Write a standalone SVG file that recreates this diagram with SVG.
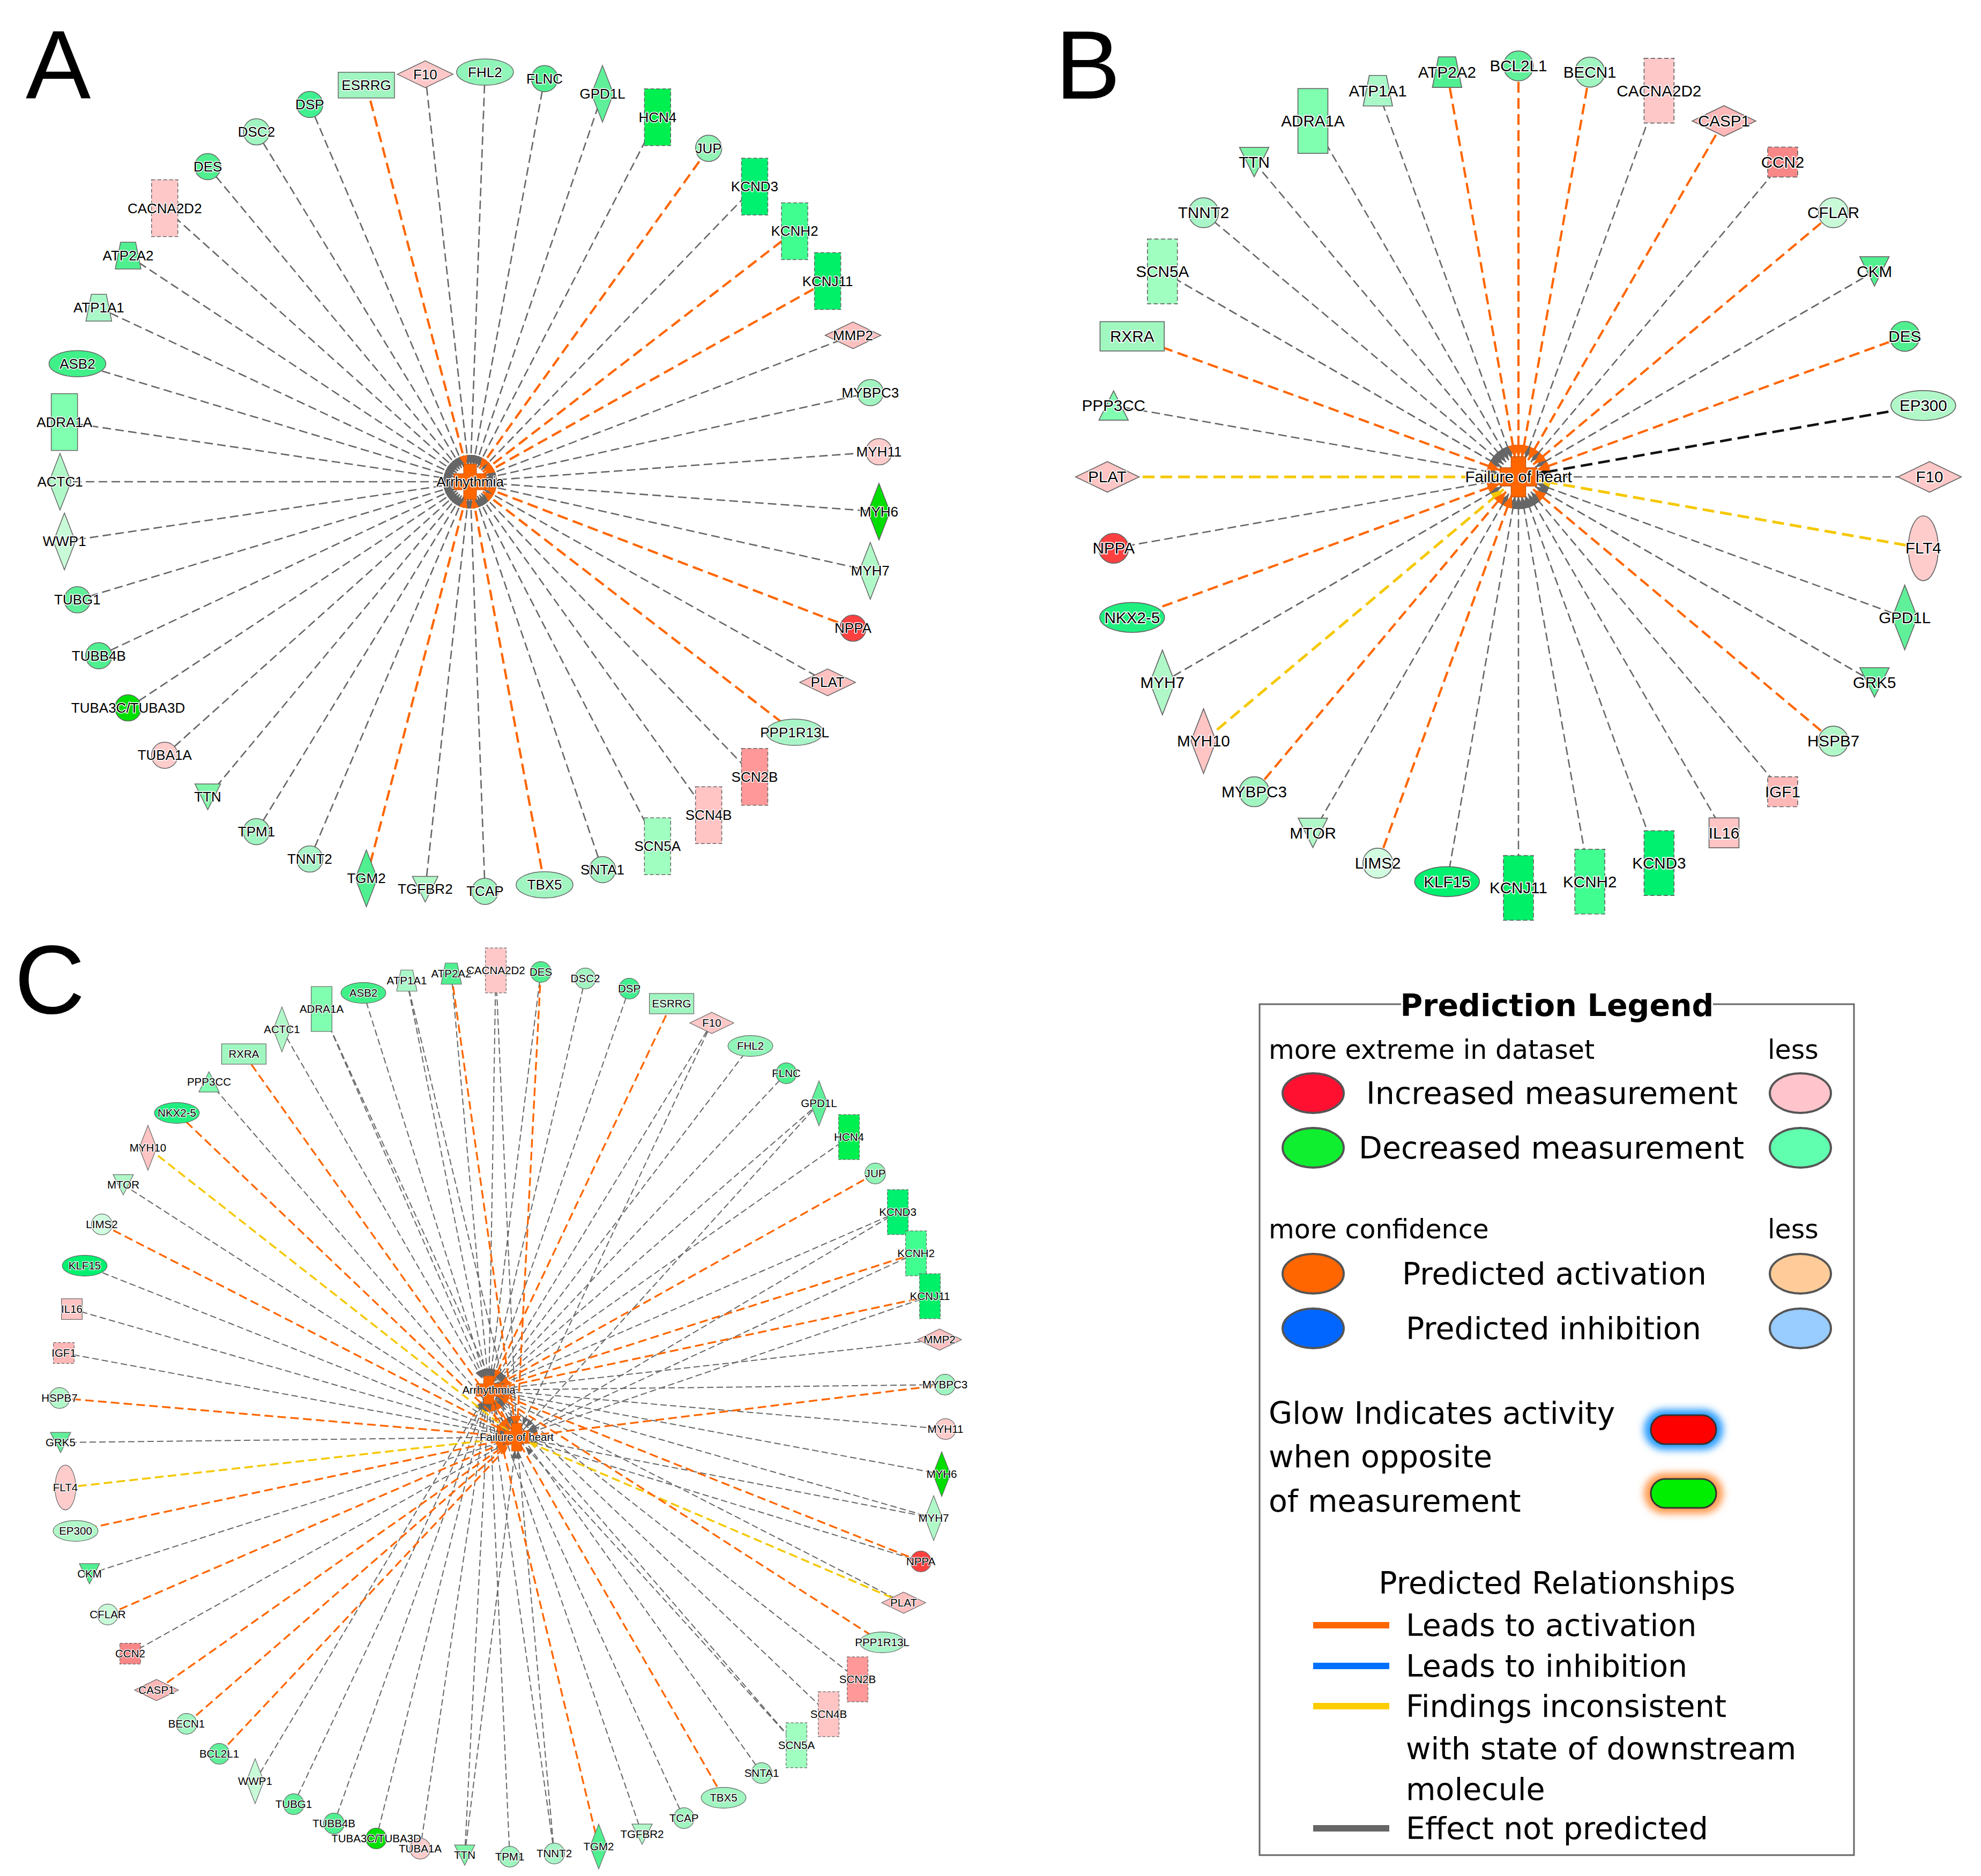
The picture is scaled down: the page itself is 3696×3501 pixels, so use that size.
<svg xmlns="http://www.w3.org/2000/svg" width="3696" height="3501" viewBox="0 0 3696 3501">
<defs>
<style>
.t{font-family:"Liberation Sans",Arial,sans-serif;font-size:26px;text-anchor:middle;fill:#000;stroke:#fff;stroke-width:3px;stroke-linejoin:round;paint-order:stroke fill}
.pl{font-family:"Liberation Sans",Arial,sans-serif;font-size:182px;fill:#000}
.eg{fill:none;stroke:#666;stroke-width:2.6;stroke-dasharray:16 8}
.eo{fill:none;stroke:#ff6600;stroke-width:4.2;stroke-dasharray:20 10}
.ey{fill:none;stroke:#f5c800;stroke-width:5;stroke-dasharray:22 11}
.ek{fill:none;stroke:#111;stroke-width:4.6;stroke-dasharray:22 11}
.cg{fill:none;stroke:#666;stroke-width:2;stroke-dasharray:12 6}
.co{fill:none;stroke:#ff6600;stroke-width:3.3;stroke-dasharray:16 8}
.cy{fill:none;stroke:#f5c800;stroke-width:3.5;stroke-dasharray:16 8}
.lg{font-family:"DejaVu Sans",Verdana,sans-serif;font-size:57px;fill:#000}
.ls{font-size:49px}
.le{stroke:#555;stroke-width:4}
</style>
<circle id="ci" r="24.5" stroke="#666" stroke-width="1.5"/>
<ellipse id="el" rx="53" ry="24.5" stroke="#666" stroke-width="1.5"/>
<ellipse id="ve" rx="24.5" ry="53" stroke="#666" stroke-width="1.5"/>
<rect id="rt" x="-24.5" y="-53" width="49" height="106" stroke="#666" stroke-width="1.5"/>
<rect id="rtd" x="-24.5" y="-53" width="49" height="106" stroke="#666" stroke-width="1.5" stroke-dasharray="7 4"/>
<rect id="rw" x="-52.5" y="-24" width="105" height="48" stroke="#666" stroke-width="1.5"/>
<rect id="sq" x="-24.5" y="-24.5" width="49" height="49" stroke="#666" stroke-width="1.5"/>
<rect id="sqd" x="-24.5" y="-24.5" width="49" height="49" stroke="#666" stroke-width="1.5" stroke-dasharray="7 4"/>
<path id="hd" d="M-52,0 L0,-25 L52,0 L0,25 Z" stroke="#666" stroke-width="1.5"/>
<path id="vd" d="M-20.5,0 L0,-53 L20.5,0 L0,53 Z" stroke="#666" stroke-width="1.5"/>
<path id="tp" d="M-14,-25 L14,-25 L24,25 L-24,25 Z" stroke="#666" stroke-width="1.5"/>
<path id="td" d="M-24,-24 L24,-24 L0,24 Z" stroke="#666" stroke-width="1.5"/>
<path id="tu" d="M0,-24 L24,24 L-24,24 Z" stroke="#666" stroke-width="1.5"/>
<path id="hubshape" d="M-12,-33 H12 V-15 H30 V15 H12 V33 H-12 V15 H-30 V-15 H-12 Z" fill="#ff6600" stroke="#b84a00" stroke-width="1"/>
<marker id="mg" viewBox="0 0 20 16" refX="20" refY="8" markerWidth="20" markerHeight="16" markerUnits="userSpaceOnUse" orient="auto"><path d="M0,0 L20,8 L0,16 Z" fill="#666"/></marker>
<marker id="mo" viewBox="0 0 20 16" refX="20" refY="8" markerWidth="20" markerHeight="16" markerUnits="userSpaceOnUse" orient="auto"><path d="M0,0 L20,8 L0,16 Z" fill="#ff6600"/></marker>
<marker id="mbg" viewBox="0 0 24 19" refX="24" refY="9.5" markerWidth="24" markerHeight="19" markerUnits="userSpaceOnUse" orient="auto"><path d="M0,0 L24,9.5 L0,19 Z" fill="#666"/></marker>
<marker id="mbo" viewBox="0 0 24 19" refX="24" refY="9.5" markerWidth="24" markerHeight="19" markerUnits="userSpaceOnUse" orient="auto"><path d="M0,0 L24,9.5 L0,19 Z" fill="#ff6600"/></marker>
<marker id="mby" viewBox="0 0 24 19" refX="24" refY="9.5" markerWidth="24" markerHeight="19" markerUnits="userSpaceOnUse" orient="auto"><path d="M0,0 L24,9.5 L0,19 Z" fill="#f5c800"/></marker>
<marker id="mbk" viewBox="0 0 24 19" refX="24" refY="9.5" markerWidth="24" markerHeight="19" markerUnits="userSpaceOnUse" orient="auto"><path d="M0,0 L24,9.5 L0,19 Z" fill="#111"/></marker>
<marker id="mcg" viewBox="0 0 40 12" refX="40" refY="6" markerWidth="40" markerHeight="12" markerUnits="userSpaceOnUse" orient="auto"><path d="M0,0 L16,6 L0,12 Z" fill="#666"/></marker>
<marker id="mco" viewBox="0 0 40 12" refX="40" refY="6" markerWidth="40" markerHeight="12" markerUnits="userSpaceOnUse" orient="auto"><path d="M0,0 L16,6 L0,12 Z" fill="#ff6600"/></marker>
<marker id="mcy" viewBox="0 0 40 12" refX="40" refY="6" markerWidth="40" markerHeight="12" markerUnits="userSpaceOnUse" orient="auto"><path d="M0,0 L16,6 L0,12 Z" fill="#f5c800"/></marker>
<filter id="blur" x="-50%" y="-50%" width="200%" height="200%"><feGaussianBlur stdDeviation="7"/></filter>
</defs>
<rect width="3696" height="3501" fill="#fff"/>

<text class="pl" x="48" y="184">A</text>
<text class="pl" x="1969" y="184">B</text>
<text class="pl" x="27" y="1891">C</text>

<!-- PANEL A -->
<g id="a-edges">
<line transform="translate(877 899) rotate(270)" y1="-765" y2="-30" class="eg" marker-end="url(#mg)"/>
<line transform="translate(877 899) rotate(278.37)" y1="-765" y2="-30" class="eg" marker-end="url(#mg)"/>
<line transform="translate(877 899) rotate(286.74)" y1="-765" y2="-30" class="eg" marker-end="url(#mg)"/>
<line transform="translate(877 899) rotate(295.12)" y1="-765" y2="-30" class="eg" marker-end="url(#mg)"/>
<line transform="translate(877 899) rotate(303.49)" y1="-765" y2="-30" class="eg" marker-end="url(#mg)"/>
<line transform="translate(877 899) rotate(311.86)" y1="-765" y2="-30" class="eg" marker-end="url(#mg)"/>
<line transform="translate(877 899) rotate(320.23)" y1="-765" y2="-30" class="eg" marker-end="url(#mg)"/>
<line transform="translate(877 899) rotate(328.60)" y1="-765" y2="-30" class="eg" marker-end="url(#mg)"/>
<line transform="translate(877 899) rotate(336.98)" y1="-765" y2="-30" class="eg" marker-end="url(#mg)"/>
<line transform="translate(877 899) rotate(353.72)" y1="-765" y2="-30" class="eg" marker-end="url(#mg)"/>
<line transform="translate(877 899) rotate(2.09)" y1="-765" y2="-30" class="eg" marker-end="url(#mg)"/>
<line transform="translate(877 899) rotate(10.47)" y1="-765" y2="-30" class="eg" marker-end="url(#mg)"/>
<line transform="translate(877 899) rotate(18.84)" y1="-765" y2="-30" class="eg" marker-end="url(#mg)"/>
<line transform="translate(877 899) rotate(27.21)" y1="-765" y2="-30" class="eg" marker-end="url(#mg)"/>
<line transform="translate(877 899) rotate(43.95)" y1="-765" y2="-30" class="eg" marker-end="url(#mg)"/>
<line transform="translate(877 899) rotate(69.07)" y1="-765" y2="-30" class="eg" marker-end="url(#mg)"/>
<line transform="translate(877 899) rotate(77.44)" y1="-765" y2="-30" class="eg" marker-end="url(#mg)"/>
<line transform="translate(877 899) rotate(85.81)" y1="-765" y2="-30" class="eg" marker-end="url(#mg)"/>
<line transform="translate(877 899) rotate(94.19)" y1="-765" y2="-30" class="eg" marker-end="url(#mg)"/>
<line transform="translate(877 899) rotate(102.56)" y1="-765" y2="-30" class="eg" marker-end="url(#mg)"/>
<line transform="translate(877 899) rotate(119.30)" y1="-765" y2="-30" class="eg" marker-end="url(#mg)"/>
<line transform="translate(877 899) rotate(136.05)" y1="-765" y2="-30" class="eg" marker-end="url(#mg)"/>
<line transform="translate(877 899) rotate(144.42)" y1="-765" y2="-30" class="eg" marker-end="url(#mg)"/>
<line transform="translate(877 899) rotate(152.79)" y1="-765" y2="-30" class="eg" marker-end="url(#mg)"/>
<line transform="translate(877 899) rotate(161.16)" y1="-765" y2="-30" class="eg" marker-end="url(#mg)"/>
<line transform="translate(877 899) rotate(177.91)" y1="-765" y2="-30" class="eg" marker-end="url(#mg)"/>
<line transform="translate(877 899) rotate(186.28)" y1="-765" y2="-30" class="eg" marker-end="url(#mg)"/>
<line transform="translate(877 899) rotate(203.02)" y1="-765" y2="-30" class="eg" marker-end="url(#mg)"/>
<line transform="translate(877 899) rotate(211.40)" y1="-765" y2="-30" class="eg" marker-end="url(#mg)"/>
<line transform="translate(877 899) rotate(219.77)" y1="-765" y2="-30" class="eg" marker-end="url(#mg)"/>
<line transform="translate(877 899) rotate(228.14)" y1="-765" y2="-30" class="eg" marker-end="url(#mg)"/>
<line transform="translate(877 899) rotate(236.51)" y1="-765" y2="-30" class="eg" marker-end="url(#mg)"/>
<line transform="translate(877 899) rotate(244.88)" y1="-765" y2="-30" class="eg" marker-end="url(#mg)"/>
<line transform="translate(877 899) rotate(253.26)" y1="-765" y2="-30" class="eg" marker-end="url(#mg)"/>
<line transform="translate(877 899) rotate(261.63)" y1="-765" y2="-30" class="eg" marker-end="url(#mg)"/>
<line transform="translate(877 899) rotate(345.35)" y1="-765" y2="-30" class="eo" marker-end="url(#mo)"/>
<line transform="translate(877 899) rotate(35.58)" y1="-765" y2="-30" class="eo" marker-end="url(#mo)"/>
<line transform="translate(877 899) rotate(52.33)" y1="-765" y2="-30" class="eo" marker-end="url(#mo)"/>
<line transform="translate(877 899) rotate(60.70)" y1="-765" y2="-30" class="eo" marker-end="url(#mo)"/>
<line transform="translate(877 899) rotate(110.93)" y1="-765" y2="-30" class="eo" marker-end="url(#mo)"/>
<line transform="translate(877 899) rotate(127.67)" y1="-765" y2="-30" class="eo" marker-end="url(#mo)"/>
<line transform="translate(877 899) rotate(169.53)" y1="-765" y2="-30" class="eo" marker-end="url(#mo)"/>
<line transform="translate(877 899) rotate(194.65)" y1="-765" y2="-30" class="eo" marker-end="url(#mo)"/>
</g>
<g id="a-nodes">
<g id="a-actc1" transform="translate(877 899) rotate(270) translate(0 -765) rotate(-270)"><use href="#vd" fill="#b0f8c8"/><text class="t" y="9">ACTC1</text></g>
<g id="a-adra1a" transform="translate(877 899) rotate(278.37) translate(0 -765) rotate(-278.37)"><use href="#rt" fill="#80ffb0"/><text class="t" y="9">ADRA1A</text></g>
<g id="a-asb2" transform="translate(877 899) rotate(286.74) translate(0 -765) rotate(-286.74)"><use href="#el" fill="#40f088"/><text class="t" y="9">ASB2</text></g>
<g id="a-atp1a1" transform="translate(877 899) rotate(295.12) translate(0 -765) rotate(-295.12)"><use href="#tp" fill="#a8f8c8"/><text class="t" y="9">ATP1A1</text></g>
<g id="a-atp2a2" transform="translate(877 899) rotate(303.49) translate(0 -765) rotate(-303.49)"><use href="#tp" fill="#50f090"/><text class="t" y="9">ATP2A2</text></g>
<g id="a-cacna2d2" transform="translate(877 899) rotate(311.86) translate(0 -765) rotate(-311.86)"><use href="#rtd" fill="#ffc8c8"/><text class="t" y="9">CACNA2D2</text></g>
<g id="a-des" transform="translate(877 899) rotate(320.23) translate(0 -765) rotate(-320.23)"><use href="#ci" fill="#50f090"/><text class="t" y="9">DES</text></g>
<g id="a-dsc2" transform="translate(877 899) rotate(328.60) translate(0 -765) rotate(-328.60)"><use href="#ci" fill="#a0f5c0"/><text class="t" y="9">DSC2</text></g>
<g id="a-dsp" transform="translate(877 899) rotate(336.98) translate(0 -765) rotate(-336.98)"><use href="#ci" fill="#40f090"/><text class="t" y="9">DSP</text></g>
<g id="a-esrrg" transform="translate(877 899) rotate(345.35) translate(0 -765) rotate(-345.35)"><use href="#rw" fill="#a0f5c0"/><text class="t" y="9">ESRRG</text></g>
<g id="a-f10" transform="translate(877 899) rotate(353.72) translate(0 -765) rotate(-353.72)"><use href="#hd" fill="#ffc8c8"/><text class="t" y="9">F10</text></g>
<g id="a-fhl2" transform="translate(877 899) rotate(2.09) translate(0 -765) rotate(-2.09)"><use href="#el" fill="#90f5b8"/><text class="t" y="9">FHL2</text></g>
<g id="a-flnc" transform="translate(877 899) rotate(10.47) translate(0 -765) rotate(-10.47)"><use href="#ci" fill="#50f090"/><text class="t" y="9">FLNC</text></g>
<g id="a-gpd1l" transform="translate(877 899) rotate(18.84) translate(0 -765) rotate(-18.84)"><use href="#vd" fill="#60f09a"/><text class="t" y="9">GPD1L</text></g>
<g id="a-hcn4" transform="translate(877 899) rotate(27.21) translate(0 -765) rotate(-27.21)"><use href="#rtd" fill="#00f050"/><text class="t" y="9">HCN4</text></g>
<g id="a-jup" transform="translate(877 899) rotate(35.58) translate(0 -765) rotate(-35.58)"><use href="#ci" fill="#90f5b5"/><text class="t" y="9">JUP</text></g>
<g id="a-kcnd3" transform="translate(877 899) rotate(43.95) translate(0 -765) rotate(-43.95)"><use href="#rtd" fill="#00f070"/><text class="t" y="9">KCND3</text></g>
<g id="a-kcnh2" transform="translate(877 899) rotate(52.33) translate(0 -765) rotate(-52.33)"><use href="#rtd" fill="#40ff90"/><text class="t" y="9">KCNH2</text></g>
<g id="a-kcnj11" transform="translate(877 899) rotate(60.70) translate(0 -765) rotate(-60.70)"><use href="#rtd" fill="#00f068"/><text class="t" y="9">KCNJ11</text></g>
<g id="a-mmp2" transform="translate(877 899) rotate(69.07) translate(0 -765) rotate(-69.07)"><use href="#hd" fill="#ffc0c0"/><text class="t" y="9">MMP2</text></g>
<g id="a-mybpc3" transform="translate(877 899) rotate(77.44) translate(0 -765) rotate(-77.44)"><use href="#ci" fill="#a0f5c0"/><text class="t" y="9">MYBPC3</text></g>
<g id="a-myh11" transform="translate(877 899) rotate(85.81) translate(0 -765) rotate(-85.81)"><use href="#ci" fill="#ffcccc"/><text class="t" y="9">MYH11</text></g>
<g id="a-myh6" transform="translate(877 899) rotate(94.19) translate(0 -765) rotate(-94.19)"><use href="#vd" fill="#00dd00"/><text class="t" y="9">MYH6</text></g>
<g id="a-myh7" transform="translate(877 899) rotate(102.56) translate(0 -765) rotate(-102.56)"><use href="#vd" fill="#b0f8c8"/><text class="t" y="9">MYH7</text></g>
<g id="a-nppa" transform="translate(877 899) rotate(110.93) translate(0 -765) rotate(-110.93)"><use href="#ci" fill="#ff4040"/><text class="t" y="9">NPPA</text></g>
<g id="a-plat" transform="translate(877 899) rotate(119.30) translate(0 -765) rotate(-119.30)"><use href="#hd" fill="#ffc0c0"/><text class="t" y="9">PLAT</text></g>
<g id="a-ppp1r13l" transform="translate(877 899) rotate(127.67) translate(0 -765) rotate(-127.67)"><use href="#el" fill="#a8f5c8"/><text class="t" y="9">PPP1R13L</text></g>
<g id="a-scn2b" transform="translate(877 899) rotate(136.05) translate(0 -765) rotate(-136.05)"><use href="#rtd" fill="#ff9898"/><text class="t" y="9">SCN2B</text></g>
<g id="a-scn4b" transform="translate(877 899) rotate(144.42) translate(0 -765) rotate(-144.42)"><use href="#rtd" fill="#ffc4c4"/><text class="t" y="9">SCN4B</text></g>
<g id="a-scn5a" transform="translate(877 899) rotate(152.79) translate(0 -765) rotate(-152.79)"><use href="#rtd" fill="#a0ffc0"/><text class="t" y="9">SCN5A</text></g>
<g id="a-snta1" transform="translate(877 899) rotate(161.16) translate(0 -765) rotate(-161.16)"><use href="#ci" fill="#a0f5c0"/><text class="t" y="9">SNTA1</text></g>
<g id="a-tbx5" transform="translate(877 899) rotate(169.53) translate(0 -765) rotate(-169.53)"><use href="#el" fill="#a0f5c0"/><text class="t" y="9">TBX5</text></g>
<g id="a-tcap" transform="translate(877 899) rotate(177.91) translate(0 -765) rotate(-177.91)"><use href="#ci" fill="#a0f5c0"/><text class="t" y="9">TCAP</text></g>
<g id="a-tgfbr2" transform="translate(877 899) rotate(186.28) translate(0 -765) rotate(-186.28)"><use href="#td" fill="#b0f8c8"/><text class="t" y="9">TGFBR2</text></g>
<g id="a-tgm2" transform="translate(877 899) rotate(194.65) translate(0 -765) rotate(-194.65)"><use href="#vd" fill="#50f090"/><text class="t" y="9">TGM2</text></g>
<g id="a-tnnt2" transform="translate(877 899) rotate(203.02) translate(0 -765) rotate(-203.02)"><use href="#ci" fill="#a8f5c8"/><text class="t" y="9">TNNT2</text></g>
<g id="a-tpm1" transform="translate(877 899) rotate(211.40) translate(0 -765) rotate(-211.40)"><use href="#ci" fill="#a0f5c0"/><text class="t" y="9">TPM1</text></g>
<g id="a-ttn" transform="translate(877 899) rotate(219.77) translate(0 -765) rotate(-219.77)"><use href="#td" fill="#80f5a8"/><text class="t" y="9">TTN</text></g>
<g id="a-tuba1a" transform="translate(877 899) rotate(228.14) translate(0 -765) rotate(-228.14)"><use href="#ci" fill="#ffcccc"/><text class="t" y="9">TUBA1A</text></g>
<g id="a-tuba3c-tuba3d" transform="translate(877 899) rotate(236.51) translate(0 -765) rotate(-236.51)"><use href="#ci" fill="#00e000"/><text class="t" y="9">TUBA3C/TUBA3D</text></g>
<g id="a-tubb4b" transform="translate(877 899) rotate(244.88) translate(0 -765) rotate(-244.88)"><use href="#ci" fill="#50f090"/><text class="t" y="9">TUBB4B</text></g>
<g id="a-tubg1" transform="translate(877 899) rotate(253.26) translate(0 -765) rotate(-253.26)"><use href="#ci" fill="#60f09a"/><text class="t" y="9">TUBG1</text></g>
<g id="a-wwp1" transform="translate(877 899) rotate(261.63) translate(0 -765) rotate(-261.63)"><use href="#vd" fill="#c8fad8"/><text class="t" y="9">WWP1</text></g>
<g id="a-arrhythmia" transform="translate(877 899)"><use href="#hubshape"/><text class="t" y="9">Arrhythmia</text></g>
</g>

<!-- PANEL B -->
<g id="b-edges">
<line transform="translate(2833 890) rotate(20)" y1="-767" y2="-36" class="eg" marker-end="url(#mbg)"/>
<line transform="translate(2833 890) rotate(40)" y1="-767" y2="-36" class="eg" marker-end="url(#mbg)"/>
<line transform="translate(2833 890) rotate(60)" y1="-767" y2="-36" class="eg" marker-end="url(#mbg)"/>
<line transform="translate(2833 890) rotate(90)" y1="-767" y2="-36" class="eg" marker-end="url(#mbg)"/>
<line transform="translate(2833 890) rotate(110)" y1="-767" y2="-36" class="eg" marker-end="url(#mbg)"/>
<line transform="translate(2833 890) rotate(120)" y1="-767" y2="-36" class="eg" marker-end="url(#mbg)"/>
<line transform="translate(2833 890) rotate(140)" y1="-767" y2="-36" class="eg" marker-end="url(#mbg)"/>
<line transform="translate(2833 890) rotate(150)" y1="-767" y2="-36" class="eg" marker-end="url(#mbg)"/>
<line transform="translate(2833 890) rotate(160)" y1="-767" y2="-36" class="eg" marker-end="url(#mbg)"/>
<line transform="translate(2833 890) rotate(170)" y1="-767" y2="-36" class="eg" marker-end="url(#mbg)"/>
<line transform="translate(2833 890) rotate(180)" y1="-767" y2="-36" class="eg" marker-end="url(#mbg)"/>
<line transform="translate(2833 890) rotate(190)" y1="-767" y2="-36" class="eg" marker-end="url(#mbg)"/>
<line transform="translate(2833 890) rotate(210)" y1="-767" y2="-36" class="eg" marker-end="url(#mbg)"/>
<line transform="translate(2833 890) rotate(240)" y1="-767" y2="-36" class="eg" marker-end="url(#mbg)"/>
<line transform="translate(2833 890) rotate(260)" y1="-767" y2="-36" class="eg" marker-end="url(#mbg)"/>
<line transform="translate(2833 890) rotate(280)" y1="-767" y2="-36" class="eg" marker-end="url(#mbg)"/>
<line transform="translate(2833 890) rotate(300)" y1="-767" y2="-36" class="eg" marker-end="url(#mbg)"/>
<line transform="translate(2833 890) rotate(310)" y1="-767" y2="-36" class="eg" marker-end="url(#mbg)"/>
<line transform="translate(2833 890) rotate(320)" y1="-767" y2="-36" class="eg" marker-end="url(#mbg)"/>
<line transform="translate(2833 890) rotate(330)" y1="-767" y2="-36" class="eg" marker-end="url(#mbg)"/>
<line transform="translate(2833 890) rotate(340)" y1="-767" y2="-36" class="eg" marker-end="url(#mbg)"/>
<line transform="translate(2833 890) rotate(80)" y1="-767" y2="-36" class="ek" marker-end="url(#mbk)"/>
<line transform="translate(2833 890) rotate(100)" y1="-767" y2="-36" class="ey" marker-end="url(#mby)"/>
<line transform="translate(2833 890) rotate(230)" y1="-767" y2="-36" class="ey" marker-end="url(#mby)"/>
<line transform="translate(2833 890) rotate(270)" y1="-767" y2="-36" class="ey" marker-end="url(#mby)"/>
<line transform="translate(2833 890) rotate(0)" y1="-767" y2="-36" class="eo" marker-end="url(#mbo)"/>
<line transform="translate(2833 890) rotate(10)" y1="-767" y2="-36" class="eo" marker-end="url(#mbo)"/>
<line transform="translate(2833 890) rotate(30)" y1="-767" y2="-36" class="eo" marker-end="url(#mbo)"/>
<line transform="translate(2833 890) rotate(50)" y1="-767" y2="-36" class="eo" marker-end="url(#mbo)"/>
<line transform="translate(2833 890) rotate(70)" y1="-767" y2="-36" class="eo" marker-end="url(#mbo)"/>
<line transform="translate(2833 890) rotate(130)" y1="-767" y2="-36" class="eo" marker-end="url(#mbo)"/>
<line transform="translate(2833 890) rotate(200)" y1="-767" y2="-36" class="eo" marker-end="url(#mbo)"/>
<line transform="translate(2833 890) rotate(220)" y1="-767" y2="-36" class="eo" marker-end="url(#mbo)"/>
<line transform="translate(2833 890) rotate(250)" y1="-767" y2="-36" class="eo" marker-end="url(#mbo)"/>
<line transform="translate(2833 890) rotate(290)" y1="-767" y2="-36" class="eo" marker-end="url(#mbo)"/>
<line transform="translate(2833 890) rotate(350)" y1="-767" y2="-36" class="eo" marker-end="url(#mbo)"/>
</g>
<g id="b-nodes">
<g id="b-bcl2l1" transform="translate(2833 890) rotate(0) translate(0 -767) rotate(0) scale(1.14)"><use href="#ci" fill="#60f09a"/><text class="t" y="9">BCL2L1</text></g>
<g id="b-becn1" transform="translate(2833 890) rotate(10) translate(0 -767) rotate(-10) scale(1.14)"><use href="#ci" fill="#a0f5c0"/><text class="t" y="9">BECN1</text></g>
<g id="b-cacna2d2" transform="translate(2833 890) rotate(20) translate(0 -767) rotate(-20) scale(1.14)"><use href="#rtd" fill="#ffc8c8"/><text class="t" y="9">CACNA2D2</text></g>
<g id="b-casp1" transform="translate(2833 890) rotate(30) translate(0 -767) rotate(-30) scale(1.14)"><use href="#hd" fill="#ffb8b8"/><text class="t" y="9">CASP1</text></g>
<g id="b-ccn2" transform="translate(2833 890) rotate(40) translate(0 -767) rotate(-40) scale(1.14)"><use href="#sqd" fill="#f88888"/><text class="t" y="9">CCN2</text></g>
<g id="b-cflar" transform="translate(2833 890) rotate(50) translate(0 -767) rotate(-50) scale(1.14)"><use href="#ci" fill="#c8fad8"/><text class="t" y="9">CFLAR</text></g>
<g id="b-ckm" transform="translate(2833 890) rotate(60) translate(0 -767) rotate(-60) scale(1.14)"><use href="#td" fill="#50f090"/><text class="t" y="9">CKM</text></g>
<g id="b-des" transform="translate(2833 890) rotate(70) translate(0 -767) rotate(-70) scale(1.14)"><use href="#ci" fill="#50f090"/><text class="t" y="9">DES</text></g>
<g id="b-ep300" transform="translate(2833 890) rotate(80) translate(0 -767) rotate(-80) scale(1.14)"><use href="#el" fill="#b0f8c8"/><text class="t" y="9">EP300</text></g>
<g id="b-f10" transform="translate(2833 890) rotate(90) translate(0 -767) rotate(-90) scale(1.14)"><use href="#hd" fill="#ffc8c8"/><text class="t" y="9">F10</text></g>
<g id="b-flt4" transform="translate(2833 890) rotate(100) translate(0 -767) rotate(-100) scale(1.14)"><use href="#ve" fill="#ffcccc"/><text class="t" y="9">FLT4</text></g>
<g id="b-gpd1l" transform="translate(2833 890) rotate(110) translate(0 -767) rotate(-110) scale(1.14)"><use href="#vd" fill="#60f09a"/><text class="t" y="9">GPD1L</text></g>
<g id="b-grk5" transform="translate(2833 890) rotate(120) translate(0 -767) rotate(-120) scale(1.14)"><use href="#td" fill="#60f09a"/><text class="t" y="9">GRK5</text></g>
<g id="b-hspb7" transform="translate(2833 890) rotate(130) translate(0 -767) rotate(-130) scale(1.14)"><use href="#ci" fill="#b0f8c8"/><text class="t" y="9">HSPB7</text></g>
<g id="b-igf1" transform="translate(2833 890) rotate(140) translate(0 -767) rotate(-140) scale(1.14)"><use href="#sqd" fill="#ffb8b8"/><text class="t" y="9">IGF1</text></g>
<g id="b-il16" transform="translate(2833 890) rotate(150) translate(0 -767) rotate(-150) scale(1.14)"><use href="#sq" fill="#ffc4c4"/><text class="t" y="9">IL16</text></g>
<g id="b-kcnd3" transform="translate(2833 890) rotate(160) translate(0 -767) rotate(-160) scale(1.14)"><use href="#rtd" fill="#00f070"/><text class="t" y="9">KCND3</text></g>
<g id="b-kcnh2" transform="translate(2833 890) rotate(170) translate(0 -767) rotate(-170) scale(1.14)"><use href="#rtd" fill="#40ff90"/><text class="t" y="9">KCNH2</text></g>
<g id="b-kcnj11" transform="translate(2833 890) rotate(180) translate(0 -767) rotate(-180) scale(1.14)"><use href="#rtd" fill="#00f068"/><text class="t" y="9">KCNJ11</text></g>
<g id="b-klf15" transform="translate(2833 890) rotate(190) translate(0 -767) rotate(-190) scale(1.14)"><use href="#el" fill="#00f070"/><text class="t" y="9">KLF15</text></g>
<g id="b-lims2" transform="translate(2833 890) rotate(200) translate(0 -767) rotate(-200) scale(1.14)"><use href="#ci" fill="#d0fce0"/><text class="t" y="9">LIMS2</text></g>
<g id="b-mtor" transform="translate(2833 890) rotate(210) translate(0 -767) rotate(-210) scale(1.14)"><use href="#td" fill="#b0f8c8"/><text class="t" y="9">MTOR</text></g>
<g id="b-mybpc3" transform="translate(2833 890) rotate(220) translate(0 -767) rotate(-220) scale(1.14)"><use href="#ci" fill="#a0f5c0"/><text class="t" y="9">MYBPC3</text></g>
<g id="b-myh10" transform="translate(2833 890) rotate(230) translate(0 -767) rotate(-230) scale(1.14)"><use href="#vd" fill="#ffc4c4"/><text class="t" y="9">MYH10</text></g>
<g id="b-myh7" transform="translate(2833 890) rotate(240) translate(0 -767) rotate(-240) scale(1.14)"><use href="#vd" fill="#b0f8c8"/><text class="t" y="9">MYH7</text></g>
<g id="b-nkx2-5" transform="translate(2833 890) rotate(250) translate(0 -767) rotate(-250) scale(1.14)"><use href="#el" fill="#20f080"/><text class="t" y="9">NKX2-5</text></g>
<g id="b-nppa" transform="translate(2833 890) rotate(260) translate(0 -767) rotate(-260) scale(1.14)"><use href="#ci" fill="#ff4040"/><text class="t" y="9">NPPA</text></g>
<g id="b-plat" transform="translate(2833 890) rotate(270) translate(0 -767) rotate(-270) scale(1.14)"><use href="#hd" fill="#ffc4c4"/><text class="t" y="9">PLAT</text></g>
<g id="b-ppp3cc" transform="translate(2833 890) rotate(280) translate(0 -767) rotate(-280) scale(1.14)"><use href="#tu" fill="#80ffb0"/><text class="t" y="9">PPP3CC</text></g>
<g id="b-rxra" transform="translate(2833 890) rotate(290) translate(0 -767) rotate(-290) scale(1.14)"><use href="#rw" fill="#a0f8c0"/><text class="t" y="9">RXRA</text></g>
<g id="b-scn5a" transform="translate(2833 890) rotate(300) translate(0 -767) rotate(-300) scale(1.14)"><use href="#rtd" fill="#a0ffc0"/><text class="t" y="9">SCN5A</text></g>
<g id="b-tnnt2" transform="translate(2833 890) rotate(310) translate(0 -767) rotate(-310) scale(1.14)"><use href="#ci" fill="#a8f5c8"/><text class="t" y="9">TNNT2</text></g>
<g id="b-ttn" transform="translate(2833 890) rotate(320) translate(0 -767) rotate(-320) scale(1.14)"><use href="#td" fill="#80f5a8"/><text class="t" y="9">TTN</text></g>
<g id="b-adra1a" transform="translate(2833 890) rotate(330) translate(0 -767) rotate(-330) scale(1.14)"><use href="#rt" fill="#80ffb0"/><text class="t" y="9">ADRA1A</text></g>
<g id="b-atp1a1" transform="translate(2833 890) rotate(340) translate(0 -767) rotate(-340) scale(1.14)"><use href="#tp" fill="#a8f8c8"/><text class="t" y="9">ATP1A1</text></g>
<g id="b-atp2a2" transform="translate(2833 890) rotate(350) translate(0 -767) rotate(-350) scale(1.14)"><use href="#tp" fill="#50f090"/><text class="t" y="9">ATP2A2</text></g>
<g id="b-failure-of-heart" transform="translate(2833 890) scale(1.14)"><use href="#hubshape"/><text class="t" y="9">Failure of heart</text></g>
</g>

<!-- PANEL C -->
<g id="c-edges">
<line x1="526" y1="1921" x2="912" y2="2594" class="cg" marker-end="url(#mcg)"/>
<line x1="600" y1="1883" x2="912" y2="2594" class="cg" marker-end="url(#mcg)"/>
<line x1="678" y1="1853" x2="912" y2="2594" class="cg" marker-end="url(#mcg)"/>
<line x1="759" y1="1830" x2="912" y2="2594" class="cg" marker-end="url(#mcg)"/>
<line x1="842" y1="1817" x2="912" y2="2594" class="cg" marker-end="url(#mcg)"/>
<line x1="925" y1="1811" x2="912" y2="2594" class="cg" marker-end="url(#mcg)"/>
<line x1="1009" y1="1814" x2="912" y2="2594" class="cg" marker-end="url(#mcg)"/>
<line x1="1092" y1="1826" x2="912" y2="2594" class="cg" marker-end="url(#mcg)"/>
<line x1="1174" y1="1845" x2="912" y2="2594" class="cg" marker-end="url(#mcg)"/>
<line x1="1328" y1="1909" x2="912" y2="2594" class="cg" marker-end="url(#mcg)"/>
<line x1="1400" y1="1952" x2="912" y2="2594" class="cg" marker-end="url(#mcg)"/>
<line x1="1467" y1="2003" x2="912" y2="2594" class="cg" marker-end="url(#mcg)"/>
<line x1="1528" y1="2059" x2="912" y2="2594" class="cg" marker-end="url(#mcg)"/>
<line x1="1584" y1="2122" x2="912" y2="2594" class="cg" marker-end="url(#mcg)"/>
<line x1="1675" y1="2262" x2="912" y2="2594" class="cg" marker-end="url(#mcg)"/>
<line x1="1753" y1="2500" x2="912" y2="2594" class="cg" marker-end="url(#mcg)"/>
<line x1="1763" y1="2584" x2="912" y2="2594" class="cg" marker-end="url(#mcg)"/>
<line x1="1764" y1="2667" x2="912" y2="2594" class="cg" marker-end="url(#mcg)"/>
<line x1="1757" y1="2751" x2="912" y2="2594" class="cg" marker-end="url(#mcg)"/>
<line x1="1742" y1="2833" x2="912" y2="2594" class="cg" marker-end="url(#mcg)"/>
<line x1="1686" y1="2991" x2="912" y2="2594" class="cg" marker-end="url(#mcg)"/>
<line x1="1600" y1="3134" x2="912" y2="2594" class="cg" marker-end="url(#mcg)"/>
<line x1="1546" y1="3199" x2="912" y2="2594" class="cg" marker-end="url(#mcg)"/>
<line x1="1486" y1="3257" x2="912" y2="2594" class="cg" marker-end="url(#mcg)"/>
<line x1="1421" y1="3309" x2="912" y2="2594" class="cg" marker-end="url(#mcg)"/>
<line x1="1276" y1="3393" x2="912" y2="2594" class="cg" marker-end="url(#mcg)"/>
<line x1="1198" y1="3423" x2="912" y2="2594" class="cg" marker-end="url(#mcg)"/>
<line x1="1034" y1="3459" x2="912" y2="2594" class="cg" marker-end="url(#mcg)"/>
<line x1="951" y1="3465" x2="912" y2="2594" class="cg" marker-end="url(#mcg)"/>
<line x1="867" y1="3462" x2="912" y2="2594" class="cg" marker-end="url(#mcg)"/>
<line x1="784" y1="3450" x2="912" y2="2594" class="cg" marker-end="url(#mcg)"/>
<line x1="702" y1="3431" x2="912" y2="2594" class="cg" marker-end="url(#mcg)"/>
<line x1="623" y1="3403" x2="912" y2="2594" class="cg" marker-end="url(#mcg)"/>
<line x1="548" y1="3367" x2="912" y2="2594" class="cg" marker-end="url(#mcg)"/>
<line x1="476" y1="3324" x2="912" y2="2594" class="cg" marker-end="url(#mcg)"/>
<line x1="600" y1="1883" x2="964" y2="2682" class="cg" marker-end="url(#mcg)"/>
<line x1="759" y1="1830" x2="964" y2="2682" class="cg" marker-end="url(#mcg)"/>
<line x1="925" y1="1811" x2="964" y2="2682" class="cg" marker-end="url(#mcg)"/>
<line x1="1328" y1="1909" x2="964" y2="2682" class="cg" marker-end="url(#mcg)"/>
<line x1="1528" y1="2059" x2="964" y2="2682" class="cg" marker-end="url(#mcg)"/>
<line x1="1675" y1="2262" x2="964" y2="2682" class="cg" marker-end="url(#mcg)"/>
<line x1="1709" y1="2339" x2="964" y2="2682" class="cg" marker-end="url(#mcg)"/>
<line x1="1735" y1="2419" x2="964" y2="2682" class="cg" marker-end="url(#mcg)"/>
<line x1="1742" y1="2833" x2="964" y2="2682" class="cg" marker-end="url(#mcg)"/>
<line x1="1718" y1="2914" x2="964" y2="2682" class="cg" marker-end="url(#mcg)"/>
<line x1="1486" y1="3257" x2="964" y2="2682" class="cg" marker-end="url(#mcg)"/>
<line x1="1034" y1="3459" x2="964" y2="2682" class="cg" marker-end="url(#mcg)"/>
<line x1="867" y1="3462" x2="964" y2="2682" class="cg" marker-end="url(#mcg)"/>
<line x1="243" y1="3086" x2="964" y2="2682" class="cg" marker-end="url(#mcg)"/>
<line x1="167" y1="2937" x2="964" y2="2682" class="cg" marker-end="url(#mcg)"/>
<line x1="113" y1="2692" x2="964" y2="2682" class="cg" marker-end="url(#mcg)"/>
<line x1="119" y1="2525" x2="964" y2="2682" class="cg" marker-end="url(#mcg)"/>
<line x1="134" y1="2443" x2="964" y2="2682" class="cg" marker-end="url(#mcg)"/>
<line x1="158" y1="2362" x2="964" y2="2682" class="cg" marker-end="url(#mcg)"/>
<line x1="230" y1="2211" x2="964" y2="2682" class="cg" marker-end="url(#mcg)"/>
<line x1="390" y1="2019" x2="964" y2="2682" class="cg" marker-end="url(#mcg)"/>
<line x1="1686" y1="2991" x2="964" y2="2682" class="cy" marker-end="url(#mcy)"/>
<line x1="122" y1="2776" x2="964" y2="2682" class="cy" marker-end="url(#mcy)"/>
<line x1="276" y1="2142" x2="964" y2="2682" class="cy" marker-end="url(#mcy)"/>
<line x1="1253" y1="1873" x2="912" y2="2594" class="co" marker-end="url(#mco)"/>
<line x1="1633" y1="2190" x2="912" y2="2594" class="co" marker-end="url(#mco)"/>
<line x1="1709" y1="2339" x2="912" y2="2594" class="co" marker-end="url(#mco)"/>
<line x1="1735" y1="2419" x2="912" y2="2594" class="co" marker-end="url(#mco)"/>
<line x1="1718" y1="2914" x2="912" y2="2594" class="co" marker-end="url(#mco)"/>
<line x1="1646" y1="3065" x2="912" y2="2594" class="co" marker-end="url(#mco)"/>
<line x1="1350" y1="3355" x2="912" y2="2594" class="co" marker-end="url(#mco)"/>
<line x1="1117" y1="3446" x2="912" y2="2594" class="co" marker-end="url(#mco)"/>
<line x1="842" y1="1817" x2="964" y2="2682" class="co" marker-end="url(#mco)"/>
<line x1="1009" y1="1814" x2="964" y2="2682" class="co" marker-end="url(#mco)"/>
<line x1="1763" y1="2584" x2="964" y2="2682" class="co" marker-end="url(#mco)"/>
<line x1="409" y1="3273" x2="964" y2="2682" class="co" marker-end="url(#mco)"/>
<line x1="348" y1="3217" x2="964" y2="2682" class="co" marker-end="url(#mco)"/>
<line x1="292" y1="3154" x2="964" y2="2682" class="co" marker-end="url(#mco)"/>
<line x1="201" y1="3013" x2="964" y2="2682" class="co" marker-end="url(#mco)"/>
<line x1="141" y1="2857" x2="964" y2="2682" class="co" marker-end="url(#mco)"/>
<line x1="111" y1="2609" x2="964" y2="2682" class="co" marker-end="url(#mco)"/>
<line x1="190" y1="2285" x2="964" y2="2682" class="co" marker-end="url(#mco)"/>
<line x1="330" y1="2077" x2="964" y2="2682" class="co" marker-end="url(#mco)"/>
<line x1="455" y1="1967" x2="964" y2="2682" class="co" marker-end="url(#mco)"/>
</g>
<g id="c-nodes">
<g id="c-actc1" transform="translate(526 1921) scale(0.79)"><use href="#vd" fill="#b0f8c8"/><text class="t" y="9">ACTC1</text></g>
<g id="c-adra1a" transform="translate(600 1883) scale(0.79)"><use href="#rt" fill="#80ffb0"/><text class="t" y="9">ADRA1A</text></g>
<g id="c-asb2" transform="translate(678 1853) scale(0.79)"><use href="#el" fill="#40f088"/><text class="t" y="9">ASB2</text></g>
<g id="c-atp1a1" transform="translate(759 1830) scale(0.79)"><use href="#tp" fill="#a8f8c8"/><text class="t" y="9">ATP1A1</text></g>
<g id="c-atp2a2" transform="translate(842 1817) scale(0.79)"><use href="#tp" fill="#50f090"/><text class="t" y="9">ATP2A2</text></g>
<g id="c-cacna2d2" transform="translate(925 1811) scale(0.79)"><use href="#rtd" fill="#ffc8c8"/><text class="t" y="9">CACNA2D2</text></g>
<g id="c-des" transform="translate(1009 1814) scale(0.79)"><use href="#ci" fill="#50f090"/><text class="t" y="9">DES</text></g>
<g id="c-dsc2" transform="translate(1092 1826) scale(0.79)"><use href="#ci" fill="#a0f5c0"/><text class="t" y="9">DSC2</text></g>
<g id="c-dsp" transform="translate(1174 1845) scale(0.79)"><use href="#ci" fill="#40f090"/><text class="t" y="9">DSP</text></g>
<g id="c-esrrg" transform="translate(1253 1873) scale(0.79)"><use href="#rw" fill="#a0f5c0"/><text class="t" y="9">ESRRG</text></g>
<g id="c-f10" transform="translate(1328 1909) scale(0.79)"><use href="#hd" fill="#ffc8c8"/><text class="t" y="9">F10</text></g>
<g id="c-fhl2" transform="translate(1400 1952) scale(0.79)"><use href="#el" fill="#90f5b8"/><text class="t" y="9">FHL2</text></g>
<g id="c-flnc" transform="translate(1467 2003) scale(0.79)"><use href="#ci" fill="#50f090"/><text class="t" y="9">FLNC</text></g>
<g id="c-gpd1l" transform="translate(1528 2059) scale(0.79)"><use href="#vd" fill="#60f09a"/><text class="t" y="9">GPD1L</text></g>
<g id="c-hcn4" transform="translate(1584 2122) scale(0.79)"><use href="#rtd" fill="#00f050"/><text class="t" y="9">HCN4</text></g>
<g id="c-jup" transform="translate(1633 2190) scale(0.79)"><use href="#ci" fill="#90f5b5"/><text class="t" y="9">JUP</text></g>
<g id="c-kcnd3" transform="translate(1675 2262) scale(0.79)"><use href="#rtd" fill="#00f070"/><text class="t" y="9">KCND3</text></g>
<g id="c-kcnh2" transform="translate(1709 2339) scale(0.79)"><use href="#rtd" fill="#40ff90"/><text class="t" y="9">KCNH2</text></g>
<g id="c-kcnj11" transform="translate(1735 2419) scale(0.79)"><use href="#rtd" fill="#00f068"/><text class="t" y="9">KCNJ11</text></g>
<g id="c-mmp2" transform="translate(1753 2500) scale(0.79)"><use href="#hd" fill="#ffc0c0"/><text class="t" y="9">MMP2</text></g>
<g id="c-mybpc3" transform="translate(1763 2584) scale(0.79)"><use href="#ci" fill="#a0f5c0"/><text class="t" y="9">MYBPC3</text></g>
<g id="c-myh11" transform="translate(1764 2667) scale(0.79)"><use href="#ci" fill="#ffcccc"/><text class="t" y="9">MYH11</text></g>
<g id="c-myh6" transform="translate(1757 2751) scale(0.79)"><use href="#vd" fill="#00dd00"/><text class="t" y="9">MYH6</text></g>
<g id="c-myh7" transform="translate(1742 2833) scale(0.79)"><use href="#vd" fill="#b0f8c8"/><text class="t" y="9">MYH7</text></g>
<g id="c-nppa" transform="translate(1718 2914) scale(0.79)"><use href="#ci" fill="#ff4040"/><text class="t" y="9">NPPA</text></g>
<g id="c-plat" transform="translate(1686 2991) scale(0.79)"><use href="#hd" fill="#ffc0c0"/><text class="t" y="9">PLAT</text></g>
<g id="c-ppp1r13l" transform="translate(1646 3065) scale(0.79)"><use href="#el" fill="#a8f5c8"/><text class="t" y="9">PPP1R13L</text></g>
<g id="c-scn2b" transform="translate(1600 3134) scale(0.79)"><use href="#rtd" fill="#ff9898"/><text class="t" y="9">SCN2B</text></g>
<g id="c-scn4b" transform="translate(1546 3199) scale(0.79)"><use href="#rtd" fill="#ffc4c4"/><text class="t" y="9">SCN4B</text></g>
<g id="c-scn5a" transform="translate(1486 3257) scale(0.79)"><use href="#rtd" fill="#a0ffc0"/><text class="t" y="9">SCN5A</text></g>
<g id="c-snta1" transform="translate(1421 3309) scale(0.79)"><use href="#ci" fill="#a0f5c0"/><text class="t" y="9">SNTA1</text></g>
<g id="c-tbx5" transform="translate(1350 3355) scale(0.79)"><use href="#el" fill="#a0f5c0"/><text class="t" y="9">TBX5</text></g>
<g id="c-tcap" transform="translate(1276 3393) scale(0.79)"><use href="#ci" fill="#a0f5c0"/><text class="t" y="9">TCAP</text></g>
<g id="c-tgfbr2" transform="translate(1198 3423) scale(0.79)"><use href="#td" fill="#b0f8c8"/><text class="t" y="9">TGFBR2</text></g>
<g id="c-tgm2" transform="translate(1117 3446) scale(0.79)"><use href="#vd" fill="#50f090"/><text class="t" y="9">TGM2</text></g>
<g id="c-tnnt2" transform="translate(1034 3459) scale(0.79)"><use href="#ci" fill="#a8f5c8"/><text class="t" y="9">TNNT2</text></g>
<g id="c-tpm1" transform="translate(951 3465) scale(0.79)"><use href="#ci" fill="#a0f5c0"/><text class="t" y="9">TPM1</text></g>
<g id="c-ttn" transform="translate(867 3462) scale(0.79)"><use href="#td" fill="#80f5a8"/><text class="t" y="9">TTN</text></g>
<g id="c-tuba1a" transform="translate(784 3450) scale(0.79)"><use href="#ci" fill="#ffcccc"/><text class="t" y="9">TUBA1A</text></g>
<g id="c-tuba3c-tuba3d" transform="translate(702 3431) scale(0.79)"><use href="#ci" fill="#00e000"/><text class="t" y="9">TUBA3C/TUBA3D</text></g>
<g id="c-tubb4b" transform="translate(623 3403) scale(0.79)"><use href="#ci" fill="#50f090"/><text class="t" y="9">TUBB4B</text></g>
<g id="c-tubg1" transform="translate(548 3367) scale(0.79)"><use href="#ci" fill="#60f09a"/><text class="t" y="9">TUBG1</text></g>
<g id="c-wwp1" transform="translate(476 3324) scale(0.79)"><use href="#vd" fill="#c8fad8"/><text class="t" y="9">WWP1</text></g>
<g id="c-bcl2l1" transform="translate(409 3273) scale(0.79)"><use href="#ci" fill="#60f09a"/><text class="t" y="9">BCL2L1</text></g>
<g id="c-becn1" transform="translate(348 3217) scale(0.79)"><use href="#ci" fill="#a0f5c0"/><text class="t" y="9">BECN1</text></g>
<g id="c-casp1" transform="translate(292 3154) scale(0.79)"><use href="#hd" fill="#ffb8b8"/><text class="t" y="9">CASP1</text></g>
<g id="c-ccn2" transform="translate(243 3086) scale(0.79)"><use href="#sqd" fill="#f88888"/><text class="t" y="9">CCN2</text></g>
<g id="c-cflar" transform="translate(201 3013) scale(0.79)"><use href="#ci" fill="#c8fad8"/><text class="t" y="9">CFLAR</text></g>
<g id="c-ckm" transform="translate(167 2937) scale(0.79)"><use href="#td" fill="#50f090"/><text class="t" y="9">CKM</text></g>
<g id="c-ep300" transform="translate(141 2857) scale(0.79)"><use href="#el" fill="#b0f8c8"/><text class="t" y="9">EP300</text></g>
<g id="c-flt4" transform="translate(122 2776) scale(0.79)"><use href="#ve" fill="#ffcccc"/><text class="t" y="9">FLT4</text></g>
<g id="c-grk5" transform="translate(113 2692) scale(0.79)"><use href="#td" fill="#60f09a"/><text class="t" y="9">GRK5</text></g>
<g id="c-hspb7" transform="translate(111 2609) scale(0.79)"><use href="#ci" fill="#b0f8c8"/><text class="t" y="9">HSPB7</text></g>
<g id="c-igf1" transform="translate(119 2525) scale(0.79)"><use href="#sqd" fill="#ffb8b8"/><text class="t" y="9">IGF1</text></g>
<g id="c-il16" transform="translate(134 2443) scale(0.79)"><use href="#sq" fill="#ffc4c4"/><text class="t" y="9">IL16</text></g>
<g id="c-klf15" transform="translate(158 2362) scale(0.79)"><use href="#el" fill="#00f070"/><text class="t" y="9">KLF15</text></g>
<g id="c-lims2" transform="translate(190 2285) scale(0.79)"><use href="#ci" fill="#d0fce0"/><text class="t" y="9">LIMS2</text></g>
<g id="c-mtor" transform="translate(230 2211) scale(0.79)"><use href="#td" fill="#b0f8c8"/><text class="t" y="9">MTOR</text></g>
<g id="c-myh10" transform="translate(276 2142) scale(0.79)"><use href="#vd" fill="#ffc4c4"/><text class="t" y="9">MYH10</text></g>
<g id="c-nkx2-5" transform="translate(330 2077) scale(0.79)"><use href="#el" fill="#20f080"/><text class="t" y="9">NKX2-5</text></g>
<g id="c-ppp3cc" transform="translate(390 2019) scale(0.79)"><use href="#tu" fill="#80ffb0"/><text class="t" y="9">PPP3CC</text></g>
<g id="c-rxra" transform="translate(455 1967) scale(0.79)"><use href="#rw" fill="#a0f8c0"/><text class="t" y="9">RXRA</text></g>
<g id="c-arrhythmia" transform="translate(912 2594) scale(0.79)"><use href="#hubshape"/><text class="t" y="9">Arrhythmia</text></g>
<g id="c-failure-of-heart" transform="translate(964 2682) scale(0.79)"><use href="#hubshape"/><text class="t" y="9">Failure of heart</text></g>
</g>

<!-- LEGEND -->
<g id="legend" transform="translate(-14 -16)">
<rect x="2364" y="1890" width="1109" height="1588" fill="#fff" stroke="#666" stroke-width="3"/>
<rect x="2628" y="1870" width="582" height="45" fill="#fff"/>
<text class="lg" x="2919" y="1912" font-size="53" font-weight="bold" text-anchor="middle">Prediction Legend</text>
<text class="lg ls" x="2381" y="1992">more extreme in dataset</text>
<text class="lg ls" x="3312" y="1992">less</text>
<ellipse class="le" cx="2464" cy="2056" rx="57" ry="37" fill="#ff1030"/>
<text class="lg" x="2563" y="2076">Increased measurement</text>
<ellipse class="le" cx="3373" cy="2056" rx="57" ry="37" fill="#ffc4cc"/>
<ellipse class="le" cx="2464" cy="2158" rx="57" ry="37" fill="#10ee30"/>
<text class="lg" x="2549" y="2178">Decreased measurement</text>
<ellipse class="le" cx="3373" cy="2158" rx="57" ry="37" fill="#60ffb0"/>
<text class="lg ls" x="2381" y="2327">more confidence</text>
<text class="lg ls" x="3312" y="2327">less</text>
<ellipse class="le" cx="2464" cy="2393" rx="57" ry="37" fill="#ff6600"/>
<text class="lg" x="2630" y="2413">Predicted activation</text>
<ellipse class="le" cx="3373" cy="2393" rx="57" ry="37" fill="#ffcc99"/>
<ellipse class="le" cx="2464" cy="2495" rx="57" ry="37" fill="#0066ff"/>
<text class="lg" x="2637" y="2515">Predicted inhibition</text>
<ellipse class="le" cx="3373" cy="2495" rx="57" ry="37" fill="#99ccff"/>
<text class="lg" x="2381" y="2673">Glow Indicates activity</text>
<text class="lg" x="2381" y="2754">when opposite</text>
<text class="lg" x="2381" y="2837">of measurement</text>
<rect x="3081" y="2646" width="148" height="76" rx="38" fill="#2a9cff" filter="url(#blur)"/>
<rect x="3094" y="2657" width="122" height="54" rx="27" fill="#ff0000" stroke="#333" stroke-width="3"/>
<rect x="3081" y="2765" width="148" height="76" rx="38" fill="#ff9a50" filter="url(#blur)"/>
<rect x="3094" y="2776" width="122" height="54" rx="27" fill="#00ee00" stroke="#333" stroke-width="3"/>
<text class="lg" x="2919" y="2990" text-anchor="middle">Predicted Relationships</text>
<line x1="2464" y1="3049" x2="2606" y2="3049" stroke="#ff6600" stroke-width="12"/>
<text class="lg" x="2637" y="3069">Leads to activation</text>
<line x1="2464" y1="3125" x2="2606" y2="3125" stroke="#0070ff" stroke-width="12"/>
<text class="lg" x="2637" y="3145">Leads to inhibition</text>
<line x1="2464" y1="3200" x2="2606" y2="3200" stroke="#ffcc00" stroke-width="12"/>
<text class="lg" x="2637" y="3220">Findings inconsistent</text>
<text class="lg" x="2637" y="3299">with state of downstream</text>
<text class="lg" x="2637" y="3375">molecule</text>
<line x1="2464" y1="3428" x2="2606" y2="3428" stroke="#666" stroke-width="12"/>
<text class="lg" x="2637" y="3448">Effect not predicted</text>
</g>
</svg>
